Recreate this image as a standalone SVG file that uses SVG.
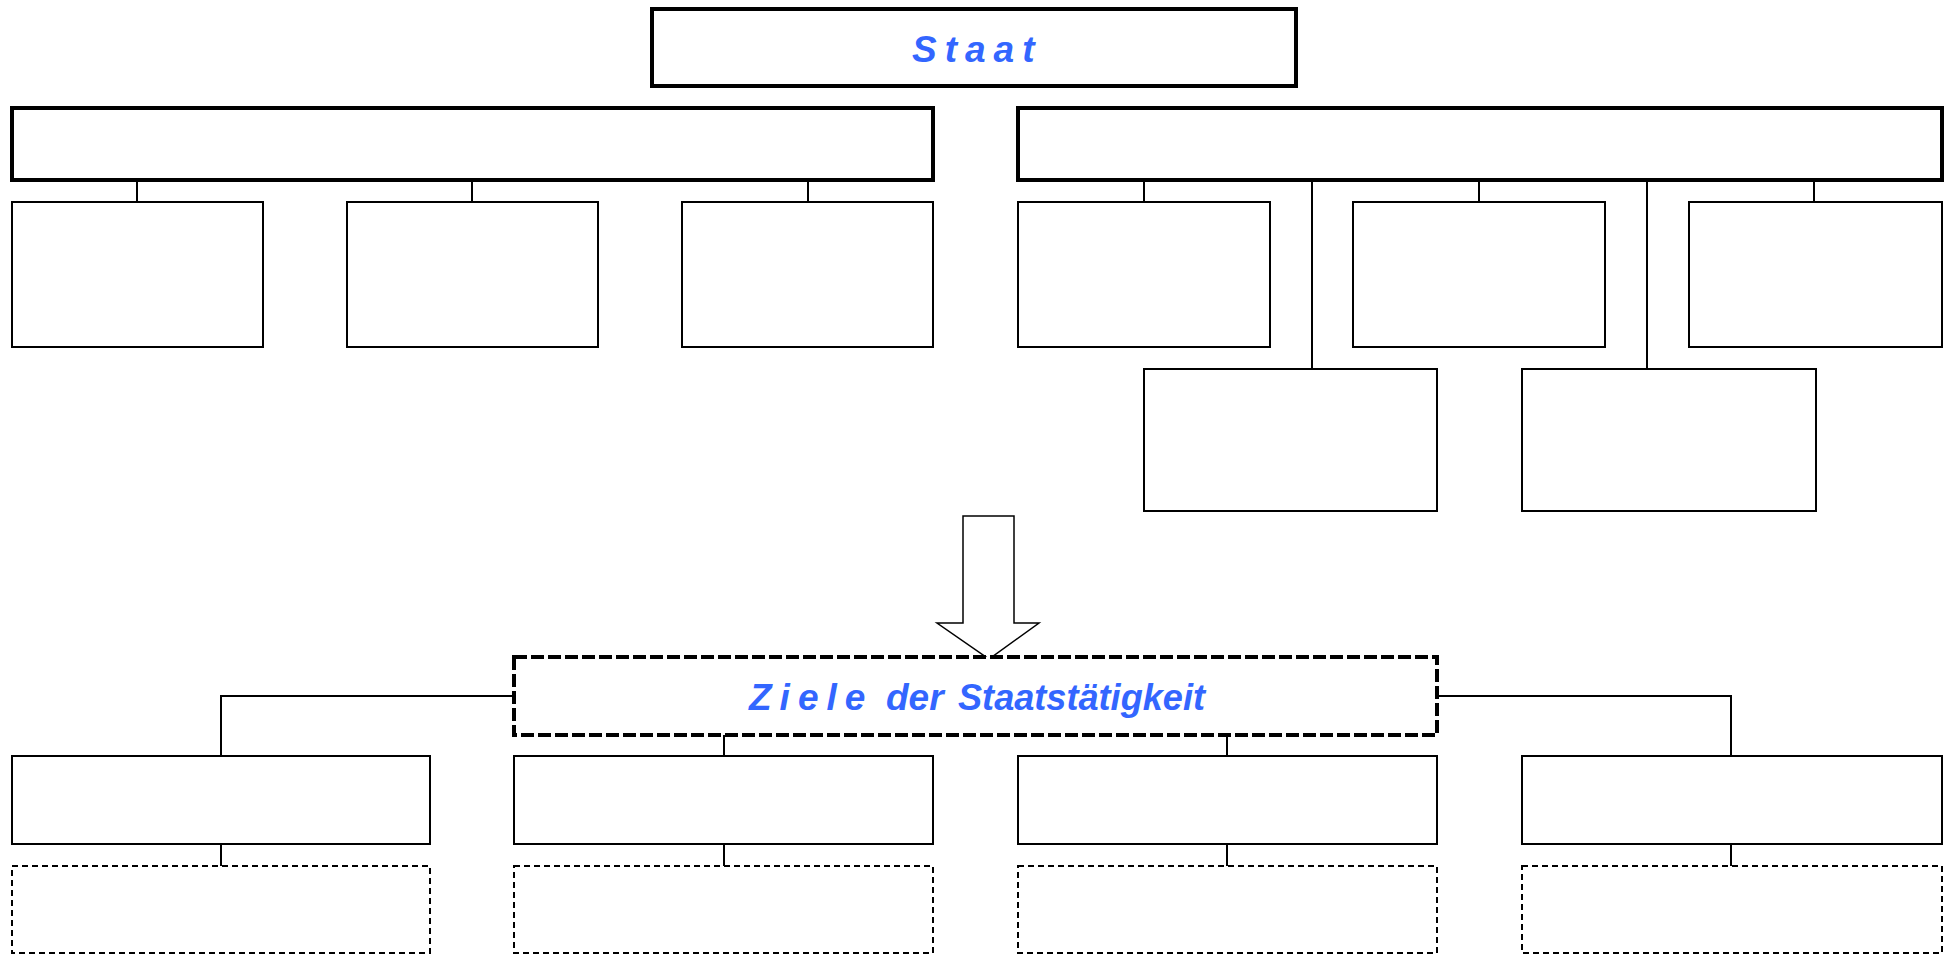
<svg xmlns="http://www.w3.org/2000/svg" width="1954" height="957" viewBox="0 0 1954 957">
<style>
.thick{fill:#fff;stroke:#000;stroke-width:4}
.thin{fill:#fff;stroke:#000;stroke-width:2}
.dthick{fill:#fff;stroke:#000;stroke-width:4;stroke-dasharray:13 4}
.dthin{fill:#fff;stroke:#000;stroke-width:2;stroke-dasharray:6 4}
.ln{fill:none;stroke:#000;stroke-width:2}
.lbl{font-family:"Liberation Sans",Arial,sans-serif;font-weight:bold;font-style:italic;font-size:37px;fill:#3366FF}
</style>
<rect width="1954" height="957" fill="#fff"/>
<g id="connectors">
<path class="ln" d="M137 180V202M472 180V202M808 180V202"/>
<path class="ln" d="M1144 180V202M1479 180V202M1814 180V202M1312 180V369M1647 180V369"/>
<path class="ln" d="M514 696H221V756M1437 696H1731V756M724 735V756M1227 735V756"/>
<path class="ln" d="M221 844V866M724 844V866M1227 844V866M1731 844V866"/>
<polygon points="963,516 1014,516 1014,623 1039,623 989,659 937,623 963,623" fill="#fff" stroke="#000" stroke-width="1.5"/>
</g>
<g id="staat"><rect class="thick" x="652" y="9" width="644" height="77"/>
<text class="lbl" x="912" y="62" letter-spacing="8">Staat</text></g>
<g id="left-main"><rect class="thick" x="12" y="108" width="921" height="72"/></g>
<g id="right-main"><rect class="thick" x="1018" y="108" width="924" height="72"/></g>
<g id="l1"><rect class="thin" x="12" y="202" width="251" height="145"/></g>
<g id="l2"><rect class="thin" x="347" y="202" width="251" height="145"/></g>
<g id="l3"><rect class="thin" x="682" y="202" width="251" height="145"/></g>
<g id="r1"><rect class="thin" x="1018" y="202" width="252" height="145"/></g>
<g id="r2"><rect class="thin" x="1353" y="202" width="252" height="145"/></g>
<g id="r3"><rect class="thin" x="1689" y="202" width="253" height="145"/></g>
<g id="r4"><rect class="thin" x="1144" y="369" width="293" height="142"/></g>
<g id="r5"><rect class="thin" x="1522" y="369" width="294" height="142"/></g>
<g id="ziele"><rect class="dthick" x="514" y="657" width="923" height="78"/>
<text class="lbl" y="710"><tspan x="749" letter-spacing="8">Ziele</tspan><tspan x="886">der</tspan><tspan x="958" textLength="247" lengthAdjust="spacingAndGlyphs">Staatstätigkeit</tspan></text></g>
<g id="z1"><rect class="thin" x="12" y="756" width="418" height="88"/></g>
<g id="z2"><rect class="thin" x="514" y="756" width="419" height="88"/></g>
<g id="z3"><rect class="thin" x="1018" y="756" width="419" height="88"/></g>
<g id="z4"><rect class="thin" x="1522" y="756" width="420" height="88"/></g>
<g id="d1"><rect class="dthin" x="12" y="866" width="418" height="87"/></g>
<g id="d2"><rect class="dthin" x="514" y="866" width="419" height="87"/></g>
<g id="d3"><rect class="dthin" x="1018" y="866" width="419" height="87"/></g>
<g id="d4"><rect class="dthin" x="1522" y="866" width="420" height="87"/></g>
</svg>
